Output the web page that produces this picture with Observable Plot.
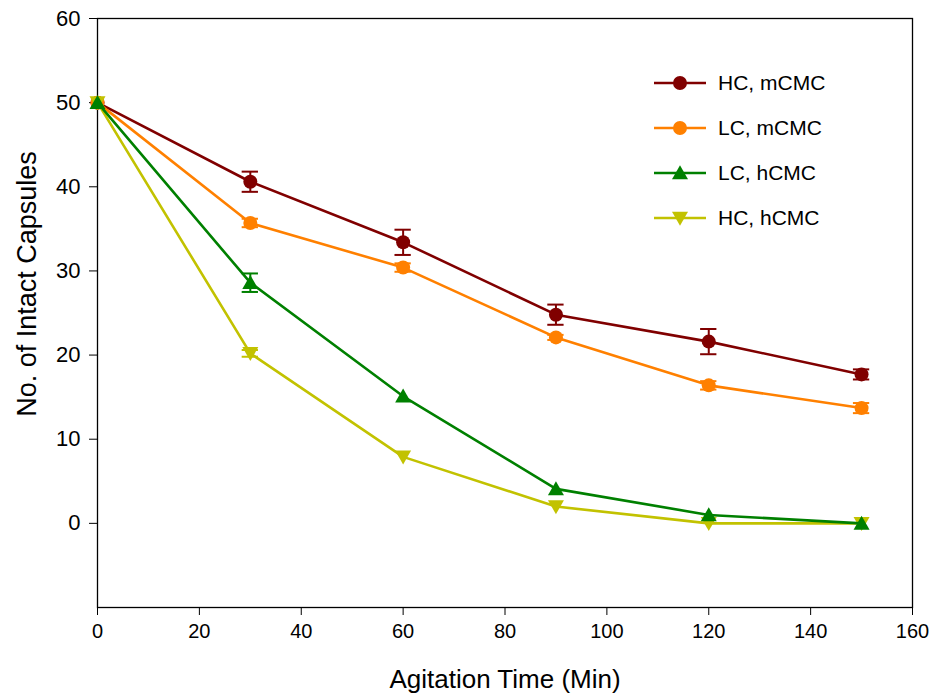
<!DOCTYPE html>
<html>
<head>
<meta charset="utf-8">
<script src="https://cdn.jsdelivr.net/npm/d3@7"></script>
<script src="https://cdn.jsdelivr.net/npm/@observablehq/plot@0.6"></script>
<style>
  html, body { margin: 0; padding: 0; background: #fff; }
  #wrap { position: relative; width: 934px; height: 696px; font-family: "Liberation Sans", Arial, sans-serif; }
  #legend { position: absolute; left: 652px; top: 60px; }
  .lrow { display: flex; align-items: center; height: 45px; font-size: 21px; color: #000; }
  .lrow svg { margin-right: 10px; }
</style>
</head>
<body>
<div id="wrap"><div id="legend"></div></div>
<script>
const times = [0, 30, 60, 90, 120, 150];
const seriesNames = ["HC, mCMC", "LC, mCMC", "LC, hCMC", "HC, hCMC"];
const colors = ["#800000", "#ff8000", "#008000", "#c2c200"];
const symbols = ["circle", "circle", "triangle", "triangle-down"];
const hcMcmc = [50, 40.6, 33.4, 24.8, 21.6, 17.7];
const hcMcmcErr = [0, 1.2, 1.5, 1.2, 1.5, 0.6];
const lcMcmc = [50, 35.7, 30.4, 22.1, 16.4, 13.7];
const lcMcmcErr = [0, 0.5, 0.5, 0.3, 0.5, 0.6];
const lcHcmc = [50, 28.6, 15.1, 4.1, 1.0, 0];
const lcHcmcErr = [0, 1.1, 0, 0, 0, 0];
const hcHcmc = [50, 20.2, 7.9, 2.0, 0, 0];
const hcHcmcErr = [0, 0.4, 0, 0, 0, 0];
const xTicks = [0, 20, 40, 60, 80, 100, 120, 140, 160];
const yTicks = [0, 10, 20, 30, 40, 50, 60];

const values = [hcMcmc, lcMcmc, lcHcmc, hcHcmc];
const errs = [hcMcmcErr, lcMcmcErr, lcHcmcErr, hcHcmcErr];
// draw order: dark red, orange, yellow, green (green on top)
const order = [0, 1, 3, 2];

const HW = 8, HT = 14;
const triUp = {
  draw(ctx) {
    ctx.moveTo(0, -HT * 0.55);
    ctx.lineTo(HW, HT * 0.45);
    ctx.lineTo(-HW, HT * 0.45);
    ctx.closePath();
  }
};
const triDown = {
  draw(ctx) {
    ctx.moveTo(0, HT * 0.55);
    ctx.lineTo(HW, -HT * 0.45);
    ctx.lineTo(-HW, -HT * 0.45);
    ctx.closePath();
  }
};
const symFor = s => s === "circle" ? "circle" : (s === "triangle" ? triUp : triDown);

const marks = [];
for (const i of order) {
  const data = times.map((t, k) => ({t, v: values[i][k], e: errs[i][k]}));
  const errData = data.filter(d => d.e > 0);
  marks.push(Plot.line(data, {x: "t", y: "v", stroke: colors[i], strokeWidth: 2.6}));
  marks.push(Plot.ruleX(errData, {x: "t", y1: d => d.v - d.e, y2: d => d.v + d.e, stroke: colors[i], strokeWidth: 2}));
  marks.push(Plot.ruleY(errData, {y: d => d.v - d.e, x1: d => d.t - 1.6, x2: d => d.t + 1.6, stroke: colors[i], strokeWidth: 2}));
  marks.push(Plot.ruleY(errData, {y: d => d.v + d.e, x1: d => d.t - 1.6, x2: d => d.t + 1.6, stroke: colors[i], strokeWidth: 2}));
  marks.push(Plot.dot(data, {x: "t", y: "v", fill: colors[i], stroke: "none",
    symbol: symFor(symbols[i]), r: 7}));
}

const chart = Plot.plot({
  width: 934,
  height: 696,
  marginLeft: 97,
  marginRight: 22,
  marginTop: 18,
  marginBottom: 89,
  style: {fontFamily: "Liberation Sans, Arial, sans-serif", background: "#fff", color: "#000"},
  x: {domain: [0, 160]},
  y: {domain: [-10, 60]},
  marks: [
    Plot.frame({stroke: "#000", strokeWidth: 1.3}),
    Plot.axisX({ticks: xTicks, tickSize: 8, tickPadding: 8, fontSize: 20, label: null}),
    Plot.axisY({ticks: yTicks, tickSize: 8, tickPadding: 9, fontSize: 22, label: null}),
    Plot.text(["Agitation Time (Min)"], {frameAnchor: "bottom", lineAnchor: "middle", dy: 72, fontSize: 26}),
    Plot.text(["No. of Intact Capsules"], {frameAnchor: "left", textAnchor: "middle", lineAnchor: "middle",
      dx: -70, dy: -29, rotate: -90, fontSize: 27}),
    ...marks
  ]
});
document.getElementById("wrap").prepend(chart);

// legend
const legend = document.getElementById("legend");
seriesNames.forEach((name, i) => {
  const row = document.createElement("div");
  row.className = "lrow";
  const ns = "http://www.w3.org/2000/svg";
  const svg = document.createElementNS(ns, "svg");
  svg.setAttribute("width", 56); svg.setAttribute("height", 20);
  const line = document.createElementNS(ns, "line");
  line.setAttribute("x1", 2); line.setAttribute("x2", 54); line.setAttribute("y1", 10); line.setAttribute("y2", 10);
  line.setAttribute("stroke", colors[i]); line.setAttribute("stroke-width", 2.6);
  svg.appendChild(line);
  const p = d3.path();
  if (symbols[i] === "circle") { p.arc(28, 10, 7, 0, 2 * Math.PI); }
  else {
    const s = symbols[i] === "triangle" ? 1 : -1;
    p.moveTo(28, 10 - s * HT * 0.55); p.lineTo(28 + HW, 10 + s * HT * 0.45); p.lineTo(28 - HW, 10 + s * HT * 0.45); p.closePath();
  }
  const path = document.createElementNS(ns, "path");
  path.setAttribute("d", p.toString()); path.setAttribute("fill", colors[i]);
  svg.appendChild(path);
  row.appendChild(svg);
  const span = document.createElement("span");
  span.textContent = name;
  row.appendChild(span);
  legend.appendChild(row);
});
</script>
</body>
</html>
